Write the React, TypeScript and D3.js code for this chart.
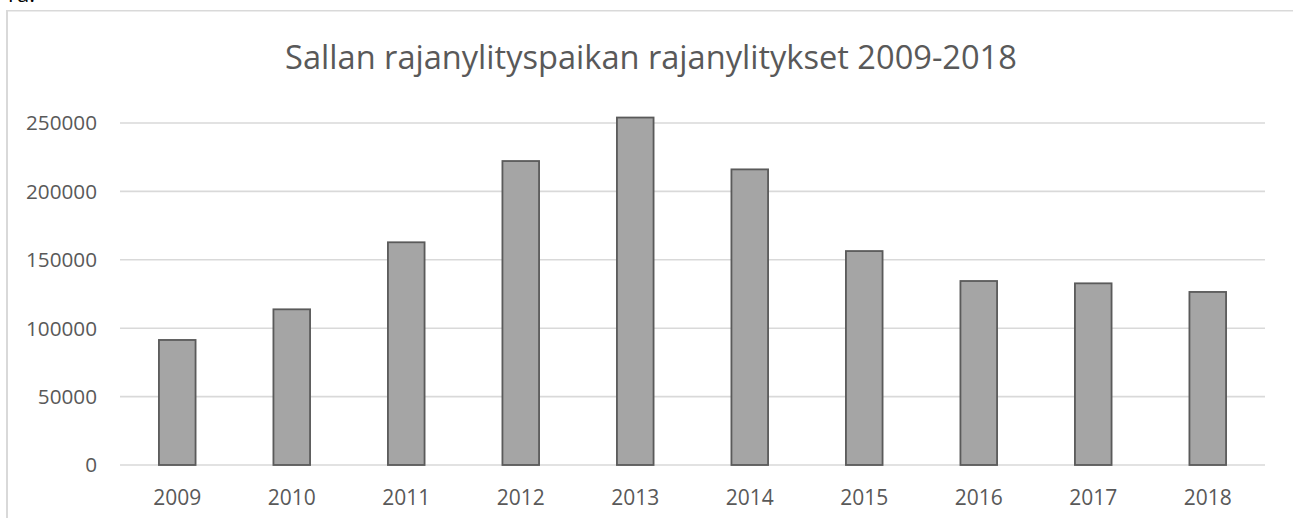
import React from "react";
import * as d3 from "d3";

const years = ["2009", "2010", "2011", "2012", "2013", "2014", "2015", "2016", "2017", "2018"];
const crossings = [91400, 113800, 162800, 222200, 254000, 216100, 156400, 134500, 132800, 126500];
const yTicks = [0, 50000, 100000, 150000, 200000, 250000];
const title = "Sallan rajanylityspaikan rajanylitykset 2009-2018";

const W = 1293;
const H = 518;
const FONT = "'Open Sans', 'Noto Sans', sans-serif";

export default function App() {
  const x = d3.scaleBand<string>().domain(years).range([120, 1265]).paddingInner(0.68).paddingOuter(0.34);
  const y = d3.scaleLinear().domain([0, 250000]).range([465, 123]);

  return (
    <svg width={W} height={H} style={{ position: "fixed", left: 0, top: 0, background: "#fff" }}>
      <rect x={0} y={0} width={W} height={H} fill="#fff" />
      <text x={8} y={2} fontFamily={FONT} fontSize={22} fill="#000">ra.</text>
      <line x1={7} x2={7} y1={10} y2={H} stroke="#d9d9d9" strokeWidth={2} />
      <line x1={6} x2={W} y1={10.7} y2={10.7} stroke="#d9d9d9" strokeWidth={1.4} />
      <text x={651} y={69} textAnchor="middle" fontFamily={FONT} fontSize={32.6} fill="#595959">{title}</text>
      {yTicks.map((t) => (
        <g key={t}>
          <line x1={120} x2={1265} y1={y(t)} y2={y(t)} stroke="#d9d9d9" strokeWidth={1.6} />
          <text x={97} y={y(t)} dy="0.36em" textAnchor="end" fontFamily={FONT} fontSize={20.7} fill="#595959">{t}</text>
        </g>
      ))}
      {years.map((yr, i) => (
        <g key={yr}>
          <rect
            x={x(yr)!}
            y={y(crossings[i])}
            width={x.bandwidth()}
            height={y(0) - y(crossings[i])}
            fill="#a5a5a5"
            stroke="#5a5a5a"
            strokeWidth={1.8}
          />
          <text x={x(yr)! + x.bandwidth() / 2} y={505} textAnchor="middle" fontFamily={FONT} fontSize={21} fill="#595959">{yr}</text>
        </g>
      ))}
    </svg>
  );
}
